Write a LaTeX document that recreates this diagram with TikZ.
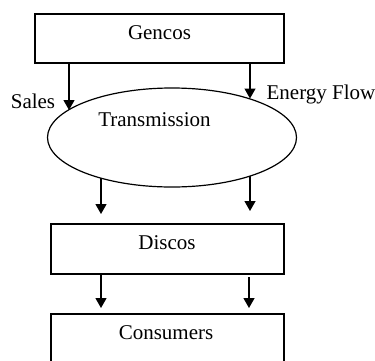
\documentclass[tikz,border=0pt]{standalone}
\usepackage{fontspec}
\setmainfont{Liberation Serif}
\usetikzlibrary{arrows.meta,shapes.geometric}
\begin{document}
\begin{tikzpicture}[x=0.5pt,y=-0.5pt,
  box/.style={draw,line width=0.65pt,rectangle,inner sep=0pt},
  oval/.style={draw,line width=0.6pt,ellipse,inner sep=0pt},
  txt/.style={inner sep=0pt,font=\fontsize{10.5}{12}\selectfont},
  arr/.style={line width=0.65pt,-{Triangle[length=5pt,width=5.5pt]}}]
\useasboundingbox (0,0) rectangle (375,360);
\clip (0,0) rectangle (375,360);
\node[box,minimum width=124.5pt,minimum height=24.5pt] (gencos) at (159.5,38.5) {};
\node[txt] (gencostxt) at (159.5,33) {Gencos};
\node[oval,minimum width=124.5pt,minimum height=49.5pt] (trans) at (172,137.5) {};
\node[txt] (transtxt) at (154.5,120) {Transmission};
\node[box,minimum width=116.5pt,minimum height=25pt] (discos) at (167.5,249) {};
\node[txt] (discostxt) at (167,243) {Discos};
\node[box,minimum width=116.5pt,minimum height=40pt] (cons) at (167.5,354) {};
\node[txt] (constxt) at (166,333) {Consumers};
\node[txt] (sales) at (33,101) {Sales};
\node[txt] (energy) at (321,94) {Energy Flow};
\coordinate (a1) at (69,110);
\coordinate (a2) at (250,98.5);
\coordinate (b1s) at (101,178);
\coordinate (b1e) at (101,214);
\coordinate (b2s) at (250,176);
\coordinate (b2e) at (250,211);
\coordinate (c1e) at (101,308);
\coordinate (c2s) at (249,277);
\coordinate (c2e) at (249,308);
\draw[arr] (gencos.south -| a1) -- (a1);
\draw[arr] (gencos.south -| a2) -- (a2);
\draw[arr] (b1s) -- (b1e);
\draw[arr] (b2s) -- (b2e);
\draw[arr] (discos.south -| c1e) -- (c1e);
\draw[arr] (c2s) -- (c2e);
\end{tikzpicture}
\end{document}
